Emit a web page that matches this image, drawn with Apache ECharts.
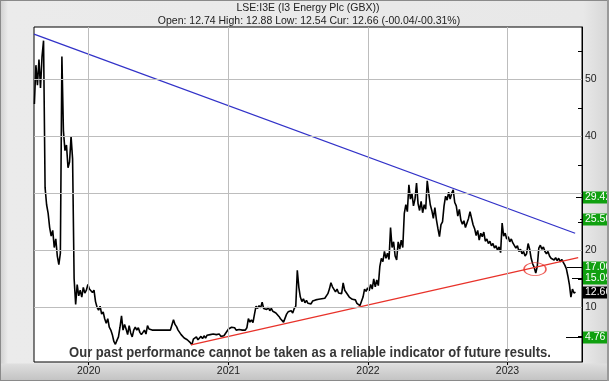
<!DOCTYPE html>
<html><head><meta charset="utf-8">
<script src="https://cdn.jsdelivr.net/npm/echarts@6/dist/echarts.min.js"></script>
<style>
html,body{margin:0;padding:0;}
#c{width:609px;height:381px;
background:
 linear-gradient(to bottom, rgba(0,0,0,0) 363px, #dedede 364px, #c2c2c2 381px),
 linear-gradient(to right, #cfcfcf 0px, #ebebeb 8px, #e8e8e8 583px, #d6d6d6 609px);
box-shadow: inset 0 0 0 1px #8a8a8a;}
</style>
</head><body><div id="c"></div>
<script>
const titleText = 'LSE:I3E (I3 Energy Plc (GBX))';
const subtitleText = 'Open: 12.74 High: 12.88 Low: 12.54 Cur: 12.66 (-00.04/-00.31%)';
const disclaimerText = 'Our past performance cannot be taken as a reliable indicator of future results.';

// daily-ish closing prices (GBX), one value every priceStepDays from priceStart
const priceStart = '2019-08-12';
const priceStepDays = 4;
const priceValues = [
45.7,52.5,49.0,53.5,48.5,54.0,56.8,31.0,28.0,26.5,
24.0,22.5,23.5,20.5,22.0,19.0,17.5,19.5,54.0,41.0,
37.5,38.5,34.5,35.5,40.0,36.0,15.0,10.5,14.0,12.0,
13.0,11.8,13.5,12.5,13.0,14.0,13.2,13.5,12.6,13.0,
11.0,10.0,9.5,10.2,8.8,9.2,8.0,7.2,8.0,6.5,
6.0,5.2,4.0,3.5,4.2,4.8,6.5,8.5,6.0,7.0,
6.2,5.2,6.8,5.5,4.8,6.0,6.5,6.0,6.4,5.6,
5.2,5.0,6.0,5.3,6.8,6.2,6.0,6.0,6.0,6.0,
6.0,6.0,6.0,6.0,6.0,6.0,6.0,6.0,6.0,6.0,
6.0,7.8,7.0,6.6,6.0,5.6,5.2,5.0,4.6,4.4,
4.3,4.0,3.8,3.4,4.4,4.2,4.8,4.3,4.6,4.9,
4.5,5.0,4.6,5.1,4.8,5.2,4.9,5.3,5.0,5.2,
5.0,5.3,4.9,5.2,5.0,5.4,5.2,6.2,6.0,6.5,
6.2,6.4,6.0,6.3,6.1,5.9,6.0,5.8,6.0,6.4,
8.0,7.4,7.8,7.3,8.8,10.2,9.8,10.3,9.9,10.9,
9.8,10.1,9.6,10.0,9.4,9.8,9.3,9.6,9.0,9.2,
8.4,8.0,7.8,7.4,7.6,8.8,9.2,8.9,9.4,9.0,
9.8,10.2,16.5,13.5,11.8,11.0,11.5,10.8,11.2,10.7,
11.0,10.6,11.1,10.8,11.3,11.0,11.4,11.1,11.5,11.2,
11.6,11.8,12.4,13.2,14.3,13.6,13.4,12.7,13.2,12.5,
12.8,12.4,14.3,13.0,12.6,12.2,11.8,12.0,11.4,11.1,
11.3,10.7,10.9,10.3,10.2,11.8,13.2,12.8,13.4,12.9,
14.0,13.2,15.0,13.6,14.8,13.8,17.2,18.6,18.0,19.8,
18.6,19.5,18.4,24.0,20.5,21.5,19.0,18.3,21.5,20.2,
21.8,20.5,26.5,28.0,26.8,31.5,29.0,30.0,27.8,29.0,
31.8,28.2,27.0,28.6,26.6,28.0,27.2,32.2,30.0,28.0,
27.0,25.6,27.5,25.4,23.8,22.4,24.5,25.0,27.8,29.5,
28.8,30.2,29.0,30.0,30.6,28.4,27.8,26.0,27.2,25.3,
24.6,25.2,24.0,24.8,25.6,26.8,27.0,24.5,23.8,22.6,
23.5,21.8,23.0,22.4,23.2,21.6,22.0,21.2,21.6,20.8,
21.2,20.4,20.8,20.0,20.6,19.6,24.8,22.5,23.0,22.0,
22.4,21.5,22.0,21.3,21.0,20.4,20.8,19.8,20.2,19.4,
19.8,19.0,19.4,21.2,20.2,18.6,17.6,17.0,16.0,17.2,
20.4,20.9,20.2,20.6,19.8,19.4,19.8,19.0,18.6,18.9,
18.3,18.7,18.2,18.6,18.0,18.4,17.9,17.4,16.8,15.5,
14.0,11.8,13.2,12.5,12.66
];

const xMin = '2019-08-11';
const xMax = '2023-07-15';
const yMin = 0.4;
const yMax = 59.2;
const yearTicks = ['2020-01-01', '2021-01-01', '2022-01-01', '2023-01-01'];
const yGridValues = [10, 20, 30, 40, 50];
const yLabelValues = [10, 20, 40, 50];
const yTickValues = [5, 10, 15, 20, 25, 30, 35, 40, 45, 50, 55];

const resistanceLine = [['2019-08-11', 57.95], ['2023-06-27', 23.0]];
const supportLine = [['2020-09-25', 3.4], ['2023-07-05', 18.7]];
const highlightPoint = [['2023-03-14', 16.7]];

const levelValues = [29.42, 25.50, 17.00, 15.09, 12.66, 4.76];
const levelLabels = ['29.42', '25.50', '17.00', '15.09', '12.66', '4.76'];
// styling of the level tags (not data)
const levelBoxColors = ['#10a010', '#10a010', '#10a010', '#10a010', '#000000', '#10a010'];
const levelTickLengths = [6, 2, 15, 10, 0, 16];

const ts = s => Date.parse(s + 'T00:00:00Z');
const DAY = 86400000;
const priceData = priceValues.map((v, i) => [ts(priceStart) + i * priceStepDays * DAY, v]);
const toPts = arr => arr.map(p => [ts(p[0]), p[1]]);

const chart = echarts.init(document.getElementById('c'), null, { renderer: 'canvas' });
const FONT = '"Liberation Sans", Arial, sans-serif';

chart.setOption({
  animation: false,
  backgroundColor: 'transparent',
  grid: { left: 34, top: 27, right: 27, bottom: 19, show: true, backgroundColor: '#ffffff', borderColor: '#000000', borderWidth: 1 },
  xAxis: {
    type: 'value', min: ts(xMin), max: ts(xMax),
    axisLine: { show: false },
    splitLine: { show: false },
    axisTick: { show: true, customValues: yearTicks.map(ts), length: 3, lineStyle: { color: '#000' } },
    axisLabel: { customValues: yearTicks.map(ts), formatter: v => String(new Date(v).getUTCFullYear()),
      color: '#222', fontFamily: FONT, fontSize: 10.5, margin: 4 }
  },
  yAxis: {
    type: 'value', position: 'right', min: yMin, max: yMax,
    axisLine: { show: true, lineStyle: { color: '#000', width: 1 } },
    splitLine: { show: false },
    axisTick: { show: true, inside: true, length: 4, customValues: yTickValues, lineStyle: { color: '#000' } },
    axisLabel: { customValues: yLabelValues, color: '#222', fontFamily: FONT, fontSize: 10.5, margin: 3 }
  },
  series: [
    { type: 'line', data: [], silent: true, z: 1,
      markLine: { silent: true, symbol: 'none', animation: false,
        lineStyle: { color: '#bdbdbd', width: 1, type: 'solid' }, label: { show: false },
        data: [...yearTicks.map(d => ({ xAxis: ts(d) })), ...yGridValues.map(v => ({ yAxis: v }))] } },
    { type: 'line', data: priceData, showSymbol: false, z: 3,
      lineStyle: { color: '#000000', width: 1.6 } },
    { type: 'line', data: toPts(resistanceLine), showSymbol: false, z: 4,
      lineStyle: { color: '#3232c8', width: 1.3 } },
    { type: 'line', data: toPts(supportLine), showSymbol: false, z: 4,
      lineStyle: { color: '#e8322a', width: 1.3 } },
    { type: 'scatter', data: toPts(highlightPoint), symbol: 'circle', symbolSize: [22, 13], z: 5,
      itemStyle: { color: 'rgba(0,0,0,0)', borderColor: '#e8322a', borderWidth: 1.2 } }
  ]
});

const xRight = chart.convertToPixel({ xAxisIndex: 0 }, ts(xMax));
const g = [];
g.push({ type: 'text', x: 308, y: 8, z: 50,
  style: { text: titleText, font: '10.5px ' + FONT, fill: '#222', textAlign: 'center', textVerticalAlign: 'middle' } });
g.push({ type: 'text', x: 309, y: 21, z: 50,
  style: { text: subtitleText, font: '10.5px ' + FONT, fill: '#222', textAlign: 'center', textVerticalAlign: 'middle' } });
g.push({ type: 'text', x: 310, y: 353, z: 60, scaleX: 0.93,
  style: { text: disclaimerText, font: 'bold 14px ' + FONT, fill: '#363636', textAlign: 'center', textVerticalAlign: 'middle' } });
levelValues.forEach((v, i) => {
  const y = Math.round(chart.convertToPixel({ yAxisIndex: 0 }, v)) + 0.5;
  if (levelTickLengths[i] > 0) {
    g.push({ type: 'line', z: 55, shape: { x1: xRight - levelTickLengths[i], y1: y, x2: xRight, y2: y },
      style: { stroke: '#000', lineWidth: 1 } });
  }
  g.push({ type: 'rect', z: 56, shape: { x: xRight + 1, y: y - 6, width: 30, height: 12 },
    style: { fill: levelBoxColors[i] } });
  g.push({ type: 'text', z: 57, x: xRight + 3, y: y,
    style: { text: levelLabels[i], font: '10.5px ' + FONT, fill: '#ffffff', textAlign: 'left', textVerticalAlign: 'middle' } });
});
g.push({ type: 'rect', z: 90, shape: { x: 607, y: 0, width: 2, height: 381 }, style: { fill: '#9a9a9a' } });
chart.setOption({ graphic: g });
</script>
</body></html>
